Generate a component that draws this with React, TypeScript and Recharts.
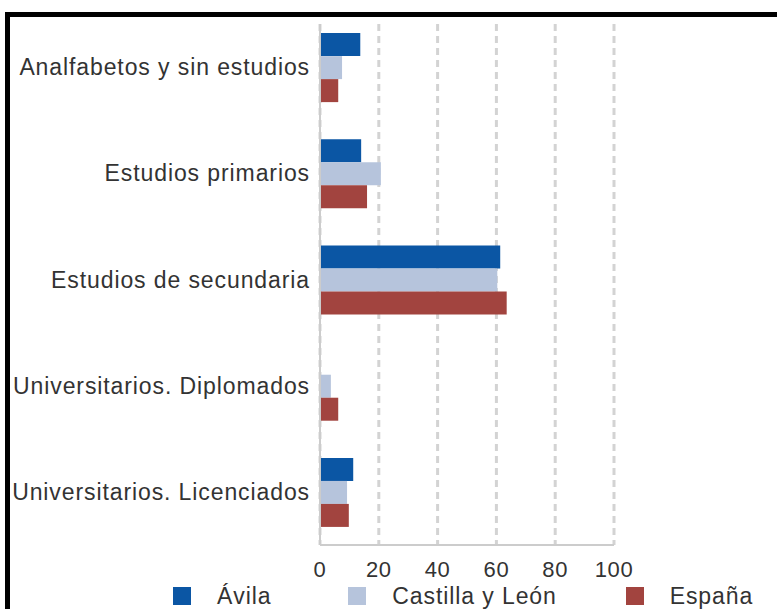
import { BarChart, Bar, XAxis, YAxis, CartesianGrid, Legend } from 'recharts';

const niveles = [
  'Analfabetos y sin estudios',
  'Estudios primarios',
  'Estudios de secundaria',
  'Universitarios. Diplomados',
  'Universitarios. Licenciados',
];

const avila = [13.7, 14.0, 61.3, 0, 11.3];
const castillaLeon = [7.5, 20.7, 60.3, 3.7, 9.2];
const espana = [6.2, 16.0, 63.5, 6.2, 9.8];

const xTicks = [0, 20, 40, 60, 80, 100];

const series = [
  { key: 'avila', label: 'Ávila', color: '#0b56a4' },
  { key: 'cyl', label: 'Castilla y León', color: '#b6c4dc' },
  { key: 'espana', label: 'España', color: '#a2443f' },
];

const data = niveles.map((name, i) => ({
  name,
  avila: avila[i],
  cyl: castillaLeon[i],
  espana: espana[i],
}));

const FONT = '"Liberation Sans", Arial, Helvetica, sans-serif';
const TEXT = '#333333';
const legendGaps = [77, 69];

// legend row: square swatch, label, wide spacing between entries
const LegendRow = () => (
  <div style={{ display: 'flex', alignItems: 'center', fontFamily: FONT }}>
    {series.map((s, i) => (
      <div
        key={s.key}
        style={{ display: 'flex', alignItems: 'center', marginRight: legendGaps[i] ?? 0 }}
      >
        <span style={{ width: 18, height: 18, background: s.color, display: 'inline-block' }} />
        <span style={{ marginLeft: 26, fontSize: 23, letterSpacing: 0.9, color: TEXT, lineHeight: '22px' }}>
          {s.label}
        </span>
      </div>
    ))}
  </div>
);

export default function App() {
  return (
    <div
      style={{
        position: 'absolute',
        left: 0,
        top: 0,
        width: 777,
        height: 609,
        overflow: 'hidden',
        background: '#fff',
        fontFamily: FONT,
      }}
    >
      {/* frame: only top and left edges are visible */}
      <div
        style={{
          position: 'absolute',
          left: 5,
          top: 12,
          width: 900,
          height: 800,
          borderTop: '5px solid #000',
          borderLeft: '5px solid #000',
        }}
      />
      <div style={{ position: 'absolute', left: 0, top: 0 }}>
        <BarChart
          width={777}
          height={609}
          data={data}
          layout="vertical"
          margin={{ top: 24, right: 163, bottom: 0, left: 0 }}
          barCategoryGap="18%"
          barGap={0}
        >
          <CartesianGrid
            horizontal={false}
            vertical
            stroke="#d3d3d3"
            strokeWidth={3}
            strokeDasharray="7 5"
          />
          <XAxis
            type="number"
            domain={[0, 100]}
            ticks={xTicks}
            axisLine={{ stroke: '#cccccc', strokeWidth: 2 }}
            tickLine={false}
            tickSize={0}
            tickMargin={16}
            height={42}
            tick={{ fontSize: 22, fill: TEXT, letterSpacing: 0.6 }}
          />
          <YAxis
            type="category"
            dataKey="name"
            width={320}
            padding={{ top: -10, bottom: 0 }}
            axisLine={{ stroke: '#cccccc', strokeWidth: 2 }}
            tickLine={false}
            tickSize={0}
            tickMargin={10}
            interval={0}
            tick={{ fontSize: 23, fill: TEXT, letterSpacing: 0.9 }}
          />
          <Legend
            verticalAlign="bottom"
            content={() => <LegendRow />}
            wrapperStyle={{ left: 173, top: 585, width: 600, height: 22 }}
          />
          {series.map((s) => (
            <Bar key={s.key} dataKey={s.key} name={s.label} fill={s.color} isAnimationActive={false} />
          ))}
        </BarChart>
      </div>
    </div>
  );
}
